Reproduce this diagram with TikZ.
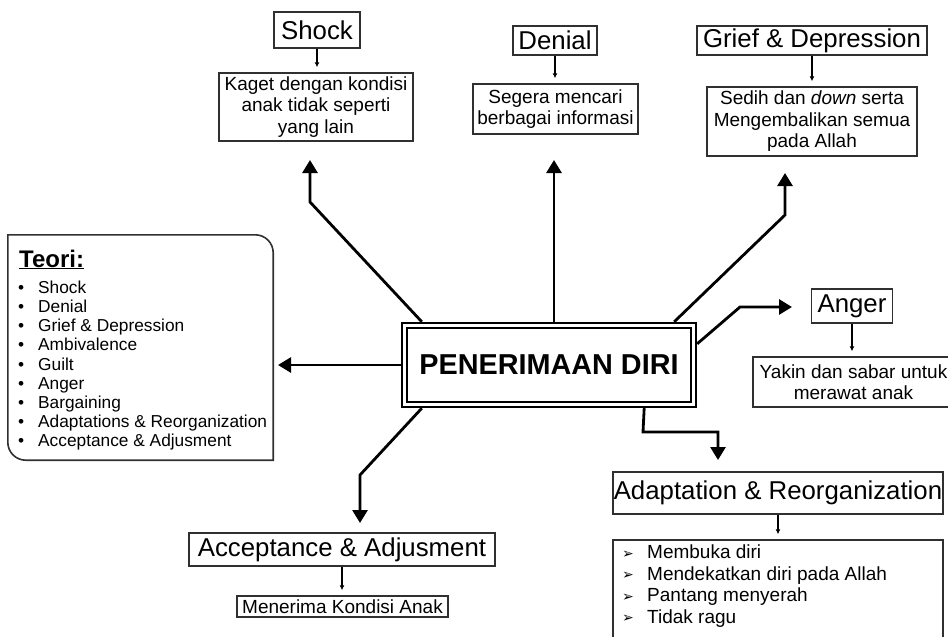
\documentclass[tikz,border=0pt]{standalone}
\usepackage{fontspec}
\setmainfont{Liberation Sans}
\newfontfamily\symfont{DejaVu Sans}
\usetikzlibrary{arrows.meta,calc}
\definecolor{boxgray}{HTML}{303030}
\newcommand{\pointer}{\makebox[25pt][l]{\raisebox{0.5pt}{\symfont\fontsize{14}{14}\selectfont ➢}}}

\begin{document}
\begin{tikzpicture}[x=1pt,y=-1pt,
  titlebox/.style={draw=boxgray, line width=1.4pt, inner sep=0pt,
    font=\fontsize{25.8}{28}\selectfont},
  notebox/.style={draw=boxgray, line width=1.4pt, inner sep=0pt, align=center,
    font=\fontsize{19}{21.5}\selectfont},
  bigarrow/.style={line width=2.8pt, line join=miter,
    -{Triangle[length=13pt,width=15pt]}},
  smallarrow/.style={line width=1.2pt, shorten >=5pt,
    -{Latex[length=5pt,width=5pt]}},
]
\useasboundingbox (0,0) rectangle (948,637);
\clip (0,0) rectangle (948,637);

% central concept
\node[draw, line width=2.4pt, minimum width=294, minimum height=84, inner sep=0pt,
  font=\bfseries\fontsize{28.8}{30}\selectfont] (core) at (549,365) {PENERIMAAN DIRI};
\draw[line width=1.8pt] ($(core.north west)+(6,6)$) rectangle ($(core.south east)+(-6,-6)$);

% stage boxes
\node[titlebox, minimum width=86, minimum height=36] (shockT) at (317,30) {Shock};
\node[notebox, minimum width=194, minimum height=68] (shockD) at (316,107)
  {Kaget dengan kondisi\\anak tidak seperti\\yang lain};

\node[titlebox, minimum width=84, minimum height=29] (denialT) at (555,40.5) {Denial};
\node[notebox, minimum width=165, minimum height=50] (denialD) at (555.5,109)
  {Segera mencari\\berbagai informasi};

\node[titlebox, minimum width=230, minimum height=29] (griefT) at (812,40.5) {Grief \& Depression};
\node[notebox, minimum width=210, minimum height=69] (griefD) at (812,121.5)
  {Sedih dan \textit{down} serta\\Mengembalikan semua\\pada Allah};

\node[titlebox, minimum width=81, minimum height=34] (angerT) at (852,306) {Anger};
\node[notebox, minimum width=201, minimum height=50] (angerD) at (853.5,382)
  {Yakin dan sabar untuk\\merawat anak};

\node[titlebox, minimum width=330, minimum height=42] (adaptT) at (778,493) {Adaptation \& Reorganization};
\node[draw=boxgray, line width=1.4pt, inner sep=0pt, minimum width=330, minimum height=120] (adaptD) at (778,600) {};
\node[anchor=north west, align=left, inner sep=0pt, font=\fontsize{19}{21.5}\selectfont] (adaptlist) at (622,545)
  {\pointer Membuka diri\\
   \pointer Mendekatkan diri pada Allah\\
   \pointer Pantang menyerah\\
   \pointer Tidak ragu};

\node[titlebox, minimum width=306, minimum height=33] (acceptT) at (342,549.5) {Acceptance \& Adjusment};
\node[notebox, minimum width=211, minimum height=21] (acceptD) at (342.5,606.5) {Menerima Kondisi Anak};

% theory list
\node[minimum width=265, minimum height=225, inner sep=0pt] (teori) at (140.5,347.5) {};
\draw[boxgray, line width=1.6pt]
  (teori.north west) -- ([xshift=-18pt]teori.north east)
  .. controls ([xshift=-8pt]teori.north east) and ([yshift=-8pt]teori.north east) .. ([yshift=-18pt]teori.north east)
  -- (teori.south east) -- ([xshift=18pt]teori.south west)
  .. controls ([xshift=8pt]teori.south west) and ([yshift=8pt]teori.south west) .. ([yshift=18pt]teori.south west)
  -- cycle;
\node[anchor=base west, inner sep=0pt, font=\bfseries\fontsize{24}{26}\selectfont] (teorihead) at (19,267) {\underline{Teori:}};
\node[anchor=north west, align=left, inner sep=0pt, font=\fontsize{17.3}{19.2}\selectfont] (teorilist) at (18,280.5)
  {\makebox[20pt][l]{•}Shock\\
   \makebox[20pt][l]{•}Denial\\
   \makebox[20pt][l]{•}Grief \& Depression\\
   \makebox[20pt][l]{•}Ambivalence\\
   \makebox[20pt][l]{•}Guilt\\
   \makebox[20pt][l]{•}Anger\\
   \makebox[20pt][l]{•}Bargaining\\
   \makebox[20pt][l]{•}Adaptations \& Reorganization\\
   \makebox[20pt][l]{•}Acceptance \& Adjusment};

% bends and free ends of the main connectors
\coordinate (shockbend) at (310,202);  \coordinate (shocktip) at (310,160);
\coordinate (denialtip) at (554,160);
\coordinate (griefbend) at (785,215);  \coordinate (grieftip) at (785,173);
\coordinate (angerbend) at (740,307);  \coordinate (angertip) at (792,307);
\coordinate (teoritip) at (278,365);
\coordinate (adaptbendA) at (643,432); \coordinate (adaptbendB) at (718,432);
\coordinate (adapttip) at (718,460);
\coordinate (acceptbend) at (360,475); \coordinate (accepttip) at (360,523);

% main connectors
\draw[bigarrow] ([xshift=21pt]core.north west) -- (shockbend) -- (shocktip);
\draw[bigarrow] ([xshift=5pt]core.north) -- (denialtip);
\draw[bigarrow] ([xshift=-23pt]core.north east) -- (griefbend) -- (grieftip);
\draw[bigarrow] ([yshift=-22pt]core.north east) -- (angerbend) -- (angertip);
\draw[bigarrow] (core.west) -- (teoritip);
\draw[bigarrow] ([xshift=-53pt]core.south east) -- (adaptbendA) -- (adaptbendB) -- (adapttip);
\draw[bigarrow] ([xshift=21pt]core.south west) -- (acceptbend) -- (accepttip);

% small connectors
\draw[smallarrow] (shockT.south) -- (shockT.south |- shockD.north);
\draw[smallarrow] (denialT.south) -- (denialT.south |- denialD.north);
\draw[smallarrow] (griefT.south) -- (griefT.south |- griefD.north);
\draw[smallarrow] (angerT.south) -- (angerT.south |- angerD.north);
\draw[smallarrow] (adaptT.south) -- (adaptT.south |- adaptD.north);
\draw[smallarrow] (acceptT.south) -- (acceptT.south |- acceptD.north);
\end{tikzpicture}
\end{document}
